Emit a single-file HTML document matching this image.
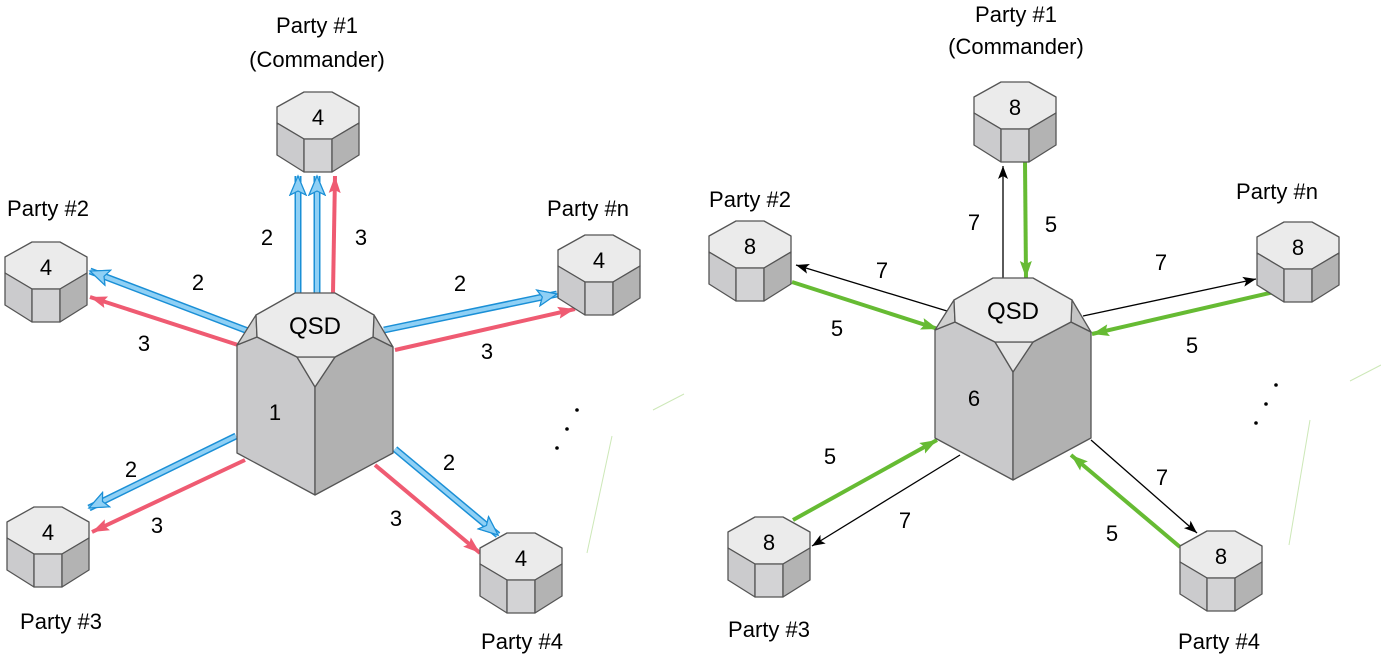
<!DOCTYPE html>
<html><head><meta charset="utf-8"><style>
html,body{margin:0;padding:0;background:#fff;}
svg{display:block;}
text{font-family:"Liberation Sans",sans-serif;fill:#000;}
</style></head><body>
<svg width="1381" height="657" viewBox="0 0 1381 657" xmlns="http://www.w3.org/2000/svg">
<defs>
<marker id="hb" markerUnits="userSpaceOnUse" markerWidth="22" markerHeight="20" refX="20" refY="10" orient="auto"><path d="M1,2 L20,10 L1,18 L5,10 Z" fill="#8fd0f5" stroke="#1a8fd6" stroke-width="1.2"/></marker>
<marker id="hr" markerUnits="userSpaceOnUse" markerWidth="18" markerHeight="14" refX="17" refY="7" orient="auto"><path d="M0,1 L17,7 L0,13 L3,7 Z" fill="#ef5b72"/></marker>
<marker id="hg" markerUnits="userSpaceOnUse" markerWidth="18" markerHeight="14" refX="17" refY="7" orient="auto"><path d="M0,1 L17,7 L0,13 L3,7 Z" fill="#66bb33"/></marker>
<marker id="hk" markerUnits="userSpaceOnUse" markerWidth="14" markerHeight="12" refX="13" refY="6" orient="auto"><path d="M0,1 L13,6 L0,11 L3,6 Z" fill="#000"/></marker>
<g id="node" stroke="#555" stroke-width="1.3" stroke-linejoin="round">
<polygon points="27,0 55,0 82,15 82,31 55,47 27,47 0,31 0,15" fill="#ebebeb"/>
<polygon points="0,31 27,47 27,80 0,63" fill="#cbcbcd"/>
<polygon points="27,47 55,47 55,80 27,80" fill="#d3d3d5"/>
<polygon points="55,47 82,31 82,63 55,80" fill="#b3b3b3"/>
</g>
<g id="qsd" stroke="#555" stroke-width="1.3" stroke-linejoin="round">
<polygon points="237,345 257,337 297,357 315,387 315,495 237,453" fill="#c9c9cb"/>
<polygon points="393,347 373,337 335,357 315,387 315,495 393,453" fill="#b1b1b1"/>
<polygon points="256,315 257,337 237,345" fill="#d0d0d0"/>
<polygon points="374,315 373,337 393,347" fill="#c4c4c4"/>
<polygon points="297,357 335,357 315,387" fill="#e6e6e6"/>
<polygon points="295,293 335,293 374,315 373,337 335,357 297,357 257,337 256,315" fill="#ebebeb"/>
</g>
</defs>

<g stroke="#cde8b8" stroke-width="1" fill="none">
<line x1="653" y1="410" x2="684" y2="394"/>
<line x1="612" y1="436" x2="587" y2="553"/>
<line x1="1350" y1="381" x2="1381" y2="365"/>
<line x1="1310" y1="420" x2="1289" y2="545"/>
</g>

<g fill="none">
<g stroke="#1a8fd6" stroke-width="7" marker-end="url(#hb)">
<line x1="298" y1="293" x2="298" y2="176"/>
<line x1="317" y1="293" x2="317" y2="176"/>
<line x1="248" y1="331" x2="90" y2="271"/>
<line x1="384" y1="330" x2="557" y2="294"/>
<line x1="236" y1="436" x2="89" y2="508"/>
<line x1="395" y1="449" x2="498" y2="535"/>
</g>
<g stroke="#8fd0f5" stroke-width="4" marker-end="url(#hb)">
<line x1="298" y1="293" x2="298" y2="176"/>
<line x1="317" y1="293" x2="317" y2="176"/>
<line x1="248" y1="331" x2="90" y2="271"/>
<line x1="384" y1="330" x2="557" y2="294"/>
<line x1="236" y1="436" x2="89" y2="508"/>
<line x1="395" y1="449" x2="498" y2="535"/>
</g>
<g stroke="#ef5b72" stroke-width="4" marker-end="url(#hr)">
<line x1="333" y1="293" x2="335" y2="176"/>
<line x1="238" y1="345" x2="90" y2="297"/>
<line x1="395" y1="350" x2="575" y2="309"/>
<line x1="245" y1="460" x2="92" y2="532"/>
<line x1="375" y1="465" x2="480" y2="553"/>
</g>
</g>
<use href="#qsd"/>
<use href="#node" transform="translate(277,92)"/>
<use href="#node" transform="translate(5,242)"/>
<use href="#node" transform="translate(558,235)"/>
<use href="#node" transform="translate(7,507)"/>
<use href="#node" transform="translate(480,533)"/>

<g fill="none">
<g stroke="#000" stroke-width="1.3" marker-end="url(#hk)">
<line x1="1003" y1="279" x2="1003" y2="166"/>
<line x1="947" y1="311" x2="796" y2="265"/>
<line x1="1083" y1="316" x2="1256" y2="279"/>
<line x1="960" y1="455" x2="812" y2="546"/>
<line x1="1091" y1="440" x2="1197" y2="533"/>
</g>
<g stroke="#66bb33" stroke-width="4" marker-end="url(#hg)">
<line x1="1025" y1="161" x2="1026" y2="278"/>
<line x1="792" y1="282" x2="938" y2="329"/>
<line x1="1274" y1="292" x2="1092" y2="334"/>
<line x1="793" y1="520" x2="937" y2="440"/>
<line x1="1180" y1="547" x2="1071" y2="455"/>
</g>
</g>
<use href="#qsd" transform="translate(698,-15)"/>
<use href="#node" transform="translate(974,82)"/>
<use href="#node" transform="translate(709,221)"/>
<use href="#node" transform="translate(1257,222)"/>
<use href="#node" transform="translate(728,517)"/>
<use href="#node" transform="translate(1180,531)"/>

<g fill="#000">
<circle cx="577" cy="410" r="1.8"/><circle cx="567" cy="429" r="1.8"/><circle cx="557" cy="448" r="1.8"/>
<circle cx="1276" cy="385" r="1.8"/><circle cx="1266" cy="404" r="1.8"/><circle cx="1256" cy="423" r="1.8"/>
</g>

<g font-size="22" text-anchor="middle">
<text x="318" y="125">4</text>
<text x="46" y="275">4</text>
<text x="599" y="268">4</text>
<text x="48" y="540">4</text>
<text x="521" y="566">4</text>
<text x="1015" y="115">8</text>
<text x="750" y="254">8</text>
<text x="1298" y="255">8</text>
<text x="769" y="550">8</text>
<text x="1221" y="564">8</text>
<text x="315" y="334" font-size="24">QSD</text>
<text x="1013" y="319" font-size="24">QSD</text>
<text x="275" y="420">1</text>
<text x="974" y="406">6</text>

<text x="267" y="245">2</text><text x="361" y="245">3</text>
<text x="198" y="290">2</text><text x="144" y="351">3</text>
<text x="460" y="291">2</text><text x="487" y="359">3</text>
<text x="131" y="477">2</text><text x="157" y="533">3</text>
<text x="449" y="470">2</text><text x="396" y="526">3</text>

<text x="974" y="230">7</text><text x="1051" y="232">5</text>
<text x="882" y="278">7</text><text x="837" y="336">5</text>
<text x="1161" y="270">7</text><text x="1192" y="353">5</text>
<text x="830" y="464">5</text><text x="905" y="528">7</text>
<text x="1162" y="485">7</text><text x="1112" y="541">5</text>

<text x="317" y="33">Party #1</text>
<text x="317" y="67">(Commander)</text>
<text x="48" y="216">Party #2</text>
<text x="588" y="216">Party #n</text>
<text x="61" y="629">Party #3</text>
<text x="522" y="649">Party #4</text>
<text x="1016" y="22">Party #1</text>
<text x="1016" y="54">(Commander)</text>
<text x="750" y="207">Party #2</text>
<text x="1277" y="199">Party #n</text>
<text x="769" y="637">Party #3</text>
<text x="1219" y="649">Party #4</text>
</g>
</svg>
</body></html>
